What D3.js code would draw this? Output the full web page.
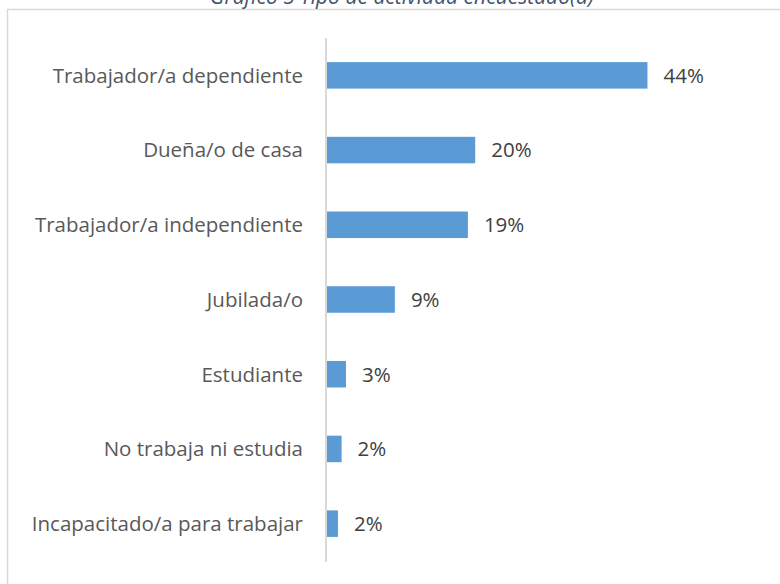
<!DOCTYPE html>
<html>
<head>
<meta charset="utf-8">
<script src="https://cdn.jsdelivr.net/npm/d3@7"></script>
<style>
  body { margin: 0; background: #fff; }
  svg { display: block; }
</style>
</head>
<body>
<div id="chart"></div>
<script>
  // data (percent of respondents)
  let categories = [
    "Trabajador/a dependiente",
    "Dueña/o de casa",
    "Trabajador/a independiente",
    "Jubilada/o",
    "Estudiante",
    "No trabaja ni estudia",
    "Incapacitado/a para trabajar"
  ];
  let values = [43.9, 20.3, 19.3, 9.3, 2.6, 2.0, 1.5];
  let title = "Gráfico 5 Tipo de actividad encuestado(a)";

  let width = 780;
  let height = 584;
  let font = "'Open Sans', 'Noto Sans', sans-serif";

  let rows = categories.map((c, i) => ({ name: c, value: values[i] }));

  let svg = d3
    .select("#chart")
    .append("svg")
    .attr("width", width)
    .attr("height", height);

  // chart frame (runs off the right and bottom edges)
  svg.append("rect")
    .attr("x", 7.5)
    .attr("y", 9.5)
    .attr("width", 800)
    .attr("height", 600)
    .attr("fill", "none")
    .attr("stroke", "#d9d9d9")
    .attr("stroke-width", 1.5);

  // title, partly cut by the top of the page like in the source
  svg.append("text")
    .attr("x", 402)
    .attr("y", 4)
    .attr("text-anchor", "middle")
    .attr("font-family", font)
    .attr("font-style", "italic")
    .attr("font-size", 21)
    .attr("fill", "#44546a")
    .text(title);

  let xScale = d3
    .scaleLinear()
    .domain([0, 10])
    .range([327, 400]);

  let yScale = d3
    .scaleBand()
    .domain(categories)
    .range([38, 561])
    .paddingInner(0.645)
    .paddingOuter(0.3225);

  svg.selectAll("rect.bar")
    .data(rows)
    .enter()
    .append("rect")
    .attr("class", "bar")
    .attr("fill", "#5b9bd5")
    .attr("x", xScale(0))
    .attr("y", (d) => yScale(d.name))
    .attr("width", (d) => xScale(d.value) - xScale(0))
    .attr("height", yScale.bandwidth());

  // value labels
  svg.selectAll("text.val")
    .data(rows)
    .enter()
    .append("text")
    .attr("class", "val")
    .attr("x", (d) => xScale(d.value) + 16)
    .attr("y", (d) => yScale(d.name) + yScale.bandwidth() / 2)
    .attr("dy", "0.36em")
    .attr("font-family", font)
    .attr("font-size", 20.5)
    .attr("fill", "#404040")
    .text((d) => Math.round(d.value) + "%");

  // category axis: just the vertical line and labels, no ticks
  let yAxis = d3.axisLeft(yScale).tickSize(0).tickPadding(23);
  let g = svg.append("g")
    .attr("transform", `translate(${xScale(0) - 1}, 0)`)
    .call(yAxis);
  g.select(".domain")
    .attr("d", "M0,38V562")
    .attr("stroke", "#d9d9d9")
    .attr("stroke-width", 2);
  g.selectAll("text")
    .attr("font-family", font)
    .attr("font-size", 20.5)
    .attr("dy", "0.36em")
    .attr("fill", "#595959");
</script>
</body>
</html>
